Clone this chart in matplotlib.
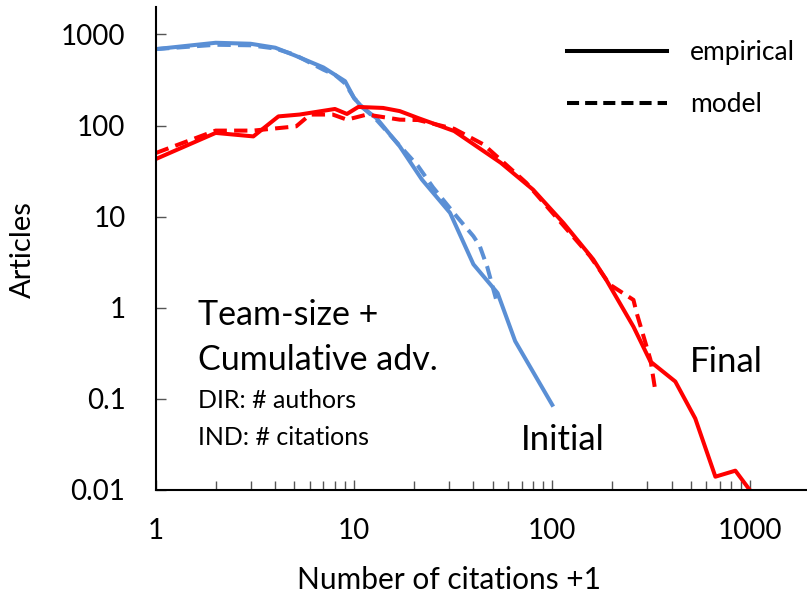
import matplotlib
matplotlib.use("Agg")
import matplotlib.pyplot as plt
from matplotlib.lines import Line2D
from matplotlib.ticker import LogLocator, NullFormatter, FixedLocator, FixedFormatter

plt.rcParams["font.family"] = ["Lato", "DejaVu Sans"]

# Initial (blue) distribution
init_emp_x = [1, 2, 3, 4, 5, 7, 9, 10, 11, 13, 17, 22, 30.5, 40, 53, 65, 100]
init_emp_y = [690, 810, 790, 715, 590, 434, 307, 200, 158, 120, 59, 25.5, 11, 3.0, 1.45, 0.43, 0.086]
init_mod_x = [1, 2, 3, 4, 5, 7, 8, 9, 10, 11, 13, 17, 21, 25, 33, 40, 43, 47, 52]
init_mod_y = [690, 770, 760, 700, 600, 410, 360, 290, 200, 160, 115, 60, 36, 21, 10, 6.1, 4.8, 2.8, 1.25]

# Final (red) distribution
final_emp_x = [1, 2, 3.1, 4.15, 5.3, 8, 9.2, 10.5, 14, 17, 21, 32, 55, 80, 114, 161, 188, 257, 313, 418, 527, 666, 840, 1000]
final_emp_y = [43, 83, 76, 126, 132, 152, 134, 160, 156, 144, 121, 87, 39, 19.8, 8.5, 3.4, 2.0, 0.62, 0.257, 0.155, 0.061, 0.014, 0.0163, 0.0098]
final_mod_x = [1, 2, 3.1, 5.1, 6, 7.8, 9.2, 11.6, 17, 21, 32, 45, 74, 155, 195, 257, 267, 313, 330]
final_mod_y = [50, 88, 88, 98, 132, 132, 116, 132, 116, 115, 92, 62, 23.5, 3.7, 1.8, 1.22, 0.87, 0.27, 0.13]

x_ticks = [1, 10, 100, 1000]
x_tick_labels = ["1", "10", "100", "1000"]
y_ticks = [0.01, 0.1, 1, 10, 100, 1000]
y_tick_labels = ["0.01", "0.1", "1", "10", "100", "1000"]

blue = "#5A8FD5"
red = "#FF0000"
W, H = 807, 603

fig = plt.figure(figsize=(W / 100, H / 100), dpi=100)
ax = fig.add_axes([156 / W, 1 - 490 / H, (810 - 156) / W, (490 - 7) / H])

lw = 2.9
ax.plot(init_emp_x, init_emp_y, color=blue, lw=lw, solid_joinstyle="round")
ax.plot(init_mod_x, init_mod_y, color=blue, lw=lw, ls=(0, (3.3, 1.8)))
ax.plot(final_emp_x, final_emp_y, color=red, lw=lw, solid_joinstyle="round")
ax.plot(final_mod_x, final_mod_y, color=red, lw=lw, ls=(0, (3.3, 1.8)))

ax.set_xscale("log")
ax.set_yscale("log")
ax.set_xlim(1, 2000)
ax.set_ylim(0.01, 2000)

ax.xaxis.set_major_locator(FixedLocator(x_ticks))
ax.xaxis.set_major_formatter(FixedFormatter(x_tick_labels))
ax.xaxis.set_minor_locator(LogLocator(base=10, subs=range(2, 10)))
ax.xaxis.set_minor_formatter(NullFormatter())
ax.yaxis.set_major_locator(FixedLocator(y_ticks))
ax.yaxis.set_major_formatter(FixedFormatter(y_tick_labels))
ax.yaxis.set_minor_locator(FixedLocator([]))

ax.tick_params(axis="both", which="major", direction="in", length=7.5, width=1,
               color="#555555", labelsize=20)
ax.tick_params(axis="x", which="minor", direction="in", length=6.5, width=1, color="#555555")
ax.tick_params(axis="y", pad=22)
ax.tick_params(axis="x", pad=20)

for side in ["top", "right"]:
    ax.spines[side].set_visible(False)
for side in ["left", "bottom"]:
    ax.spines[side].set_linewidth(1.5)

fig.text(23 / W, 1 - 250 / H, "Articles", rotation=90, ha="center", va="center", fontsize=21)
fig.text(449 / W, 1 - 580 / H, "Number of citations +1", ha="center", va="center", fontsize=21.5)

fig.text(198 / W, 1 - 325 / H, "Team-size +", fontsize=24.5, va="baseline")
fig.text(198 / W, 1 - 370 / H, "Cumulative adv.", fontsize=24.5, va="baseline")
fig.text(198 / W, 1 - 408 / H, "DIR: # authors", fontsize=18, va="baseline")
fig.text(198 / W, 1 - 445 / H, "IND: # citations", fontsize=18, va="baseline")
fig.text(521 / W, 1 - 450 / H, "Initial", fontsize=25, va="baseline")
fig.text(690 / W, 1 - 372 / H, "Final", fontsize=25, va="baseline")

handles = [Line2D([], [], color="black", lw=2.9),
           Line2D([], [], color="black", lw=2.9, ls=(0, (3.0, 1.5)))]
ax.legend(handles, ["empirical", "model"], loc="upper left",
          bbox_to_anchor=(543 / W, 1 - 16 / H), bbox_transform=fig.transFigure,
          frameon=False, fontsize=19, handlelength=3.8, handletextpad=0.87,
          labelspacing=1.05)

fig.savefig("out.png", dpi=100)
